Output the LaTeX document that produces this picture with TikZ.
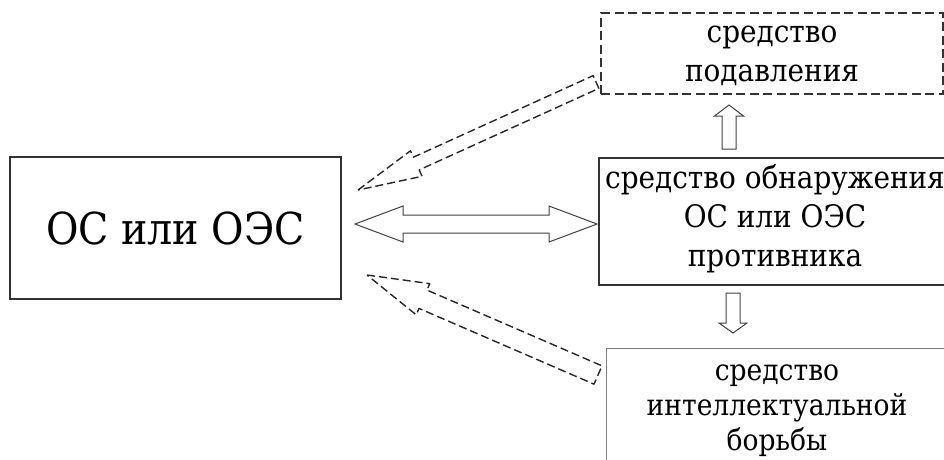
\documentclass[tikz,border=0pt]{standalone}
\usepackage{fontspec}
\setmainfont{DejaVu Serif}
\newfontfamily\condserif{DejaVu Serif}[FakeStretch=0.9]
\usetikzlibrary{calc}
\newcommand\blockarr[6]{%
  \path ($(#1)!#3!(#2)$) coordinate (hb);
  \draw[#6] (#1) -- ($(hb)!#4!90:(#2)$) -- ($(hb)!#5!90:(#2)$) -- ($(#2)!#5!-90:(hb)$)
    -- ($(#2)!#5!90:(hb)$) -- ($(hb)!#5!-90:(#2)$) -- ($(hb)!#4!-90:(#2)$) -- cycle;}
\begin{document}
\begin{tikzpicture}[x=1pt,y=-1pt,
  box/.style={draw=black!80, line width=1.2pt, inner sep=0pt, align=center},
  txt/.style={font=\condserif\fontsize{31}{39}\selectfont, align=center, inner sep=0pt},
  dasharr/.style={draw=black!85, line width=1.4pt, dash pattern=on 8pt off 4pt, line join=round},
  solidarr/.style={draw=black!75, line width=1pt, line join=miter}]
\useasboundingbox (0,0) rectangle (944,459);
% boxes
\node[box, minimum width=331pt, minimum height=142pt, font=\condserif\fontsize{44}{50}\selectfont] (os) at (175.5,228) {ОС или ОЭС};
\node[box, dash pattern=on 9pt off 4.5pt, line width=1.2pt, minimum width=342pt, minimum height=81pt] (sup) at (772,53.5) {};
\node[txt] (suptxt) at (772,56) {средство\\подавления};
\node[box, minimum width=352pt, minimum height=127pt] (det) at (775,221.5) {};
\node[txt] (dettxt) at (775,219) {средство обнаружения\\ОС или ОЭС\\противника};
\node[box, draw=black!50, line width=1pt, minimum width=342pt, minimum height=140pt, anchor=north west] (int) at (606,348) {};
\node[txt, font=\condserif\fontsize{29.5}{35}\selectfont] (inttxt) at (777,411) {средство\\интеллектуальной\\борьбы};
% double arrow
\coordinate (dL) at (355,224);
\coordinate (dR) at (597,224);
\draw[solidarr] (dL) -- ++(48,-18) -- ++(0,9) -- ($(dR)+(-48,-9)$) -- ++(0,-9) -- (dR)
  -- ++(-48,18) -- ++(0,-9) -- ($(dL)+(48,9)$) -- ++(0,9) -- cycle;
% up and down arrows
\coordinate (upTip) at (729,105);
\coordinate (upTail) at (729,149);
\blockarr{upTip}{upTail}{11pt}{14.5pt}{7pt}{solidarr}
\coordinate (dnTip) at (733,333);
\coordinate (dnTail) at (733,293);
\blockarr{dnTip}{dnTail}{10pt}{14pt}{7pt}{solidarr}
% dashed arrows
\coordinate (a1Tip) at (358,190);
\coordinate (a1Tail) at (596,82);
\blockarr{a1Tip}{a1Tail}{64pt}{14pt}{7pt}{dasharr}
\coordinate (a2Tip) at (367,275);
\coordinate (a2Tail) at (598,375);
\blockarr{a2Tip}{a2Tail}{61pt}{17pt}{10pt}{dasharr}
\end{tikzpicture}
\end{document}
